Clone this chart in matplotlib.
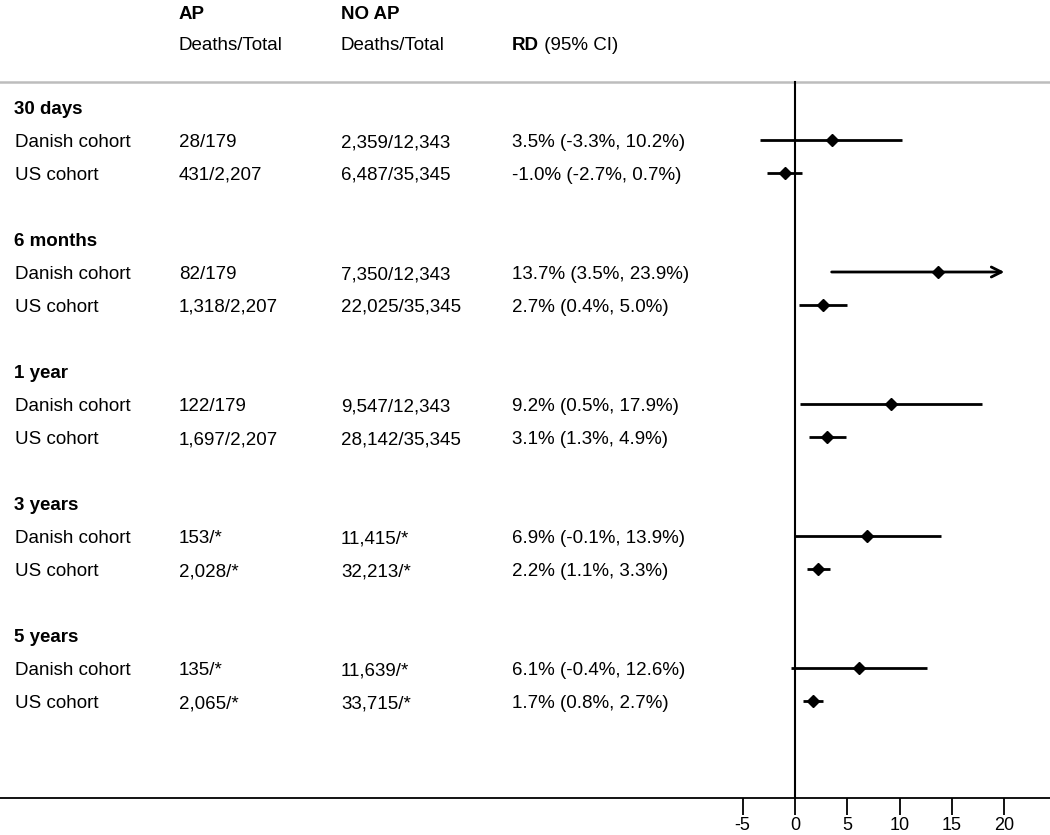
import matplotlib
matplotlib.use("Agg")
import matplotlib.pyplot as plt
import matplotlib.transforms as mtransforms

plt.rcParams['font.family'] = ['Liberation Sans', 'DejaVu Sans']

groups = ["30 days", "6 months", "1 year", "3 years", "5 years"]
cohorts = ["Danish cohort", "US cohort"]
ap_counts = [["28/179", "431/2,207"], ["82/179", "1,318/2,207"], ["122/179", "1,697/2,207"],
             ["153/*", "2,028/*"], ["135/*", "2,065/*"]]
noap_counts = [["2,359/12,343", "6,487/35,345"], ["7,350/12,343", "22,025/35,345"],
               ["9,547/12,343", "28,142/35,345"], ["11,415/*", "32,213/*"], ["11,639/*", "33,715/*"]]
rd = [[3.5, -1.0], [13.7, 2.7], [9.2, 3.1], [6.9, 2.2], [6.1, 1.7]]
lo = [[-3.3, -2.7], [3.5, 0.4], [0.5, 1.3], [-0.1, 1.1], [-0.4, 0.8]]
hi = [[10.2, 0.7], [23.9, 5.0], [17.9, 4.9], [13.9, 3.3], [12.6, 2.7]]
xticks = [-5, 0, 5, 10, 15, 20]
x_max = 20

W, H = 1050, 835
fig = plt.figure(figsize=(W / 100, H / 100), dpi=100)
bottom_px = 37
ax = fig.add_axes([0, bottom_px / H, 1, 1 - bottom_px / H])

# pixel mapping
x0_px, px_per_unit = 795.0, 10.47
ax.set_xlim((0 - x0_px) / px_per_unit, (W - x0_px) / px_per_unit)
y0_px, pitch = 107.0, 33.0
ax.set_ylim((H - bottom_px - y0_px) / pitch, (0 - y0_px) / pitch)

def row(px):
    return (px - y0_px) / pitch

fs = 13.5
base_off = 7.0 / pitch  # baseline sits below row centre
tr = mtransforms.blended_transform_factory(ax.transAxes, ax.transData)
col_x = [14 / W, 179 / W, 341 / W, 512 / W]

def put(x, y, s, bold=False):
    return ax.text(x, y + base_off, s, transform=tr, fontsize=fs,
                   fontweight='bold' if bold else 'normal', va='baseline')

# header
put(col_x[1], row(12), "AP", bold=True)
put(col_x[2], row(12), "NO AP", bold=True)
put(col_x[1], row(43), "Deaths/Total")
put(col_x[2], row(43), "Deaths/Total")
t = put(col_x[3], row(43), "RD", bold=True)
ax.annotate(" (95% CI)", xycoords=t, xy=(1, 0), xytext=(0, 0), textcoords='offset points',
            va='bottom', fontsize=fs)

top_line_y = row(82)
ax.plot([0, 1], [top_line_y, top_line_y], transform=tr, color='#bdbdbd', lw=1.8, clip_on=False)
ax.plot([0, 0], [top_line_y, ax.get_ylim()[0]], color='black', lw=1.5)

for g, name in enumerate(groups):
    base = 4 * g
    put(col_x[0], base, name, bold=True)
    for c, coh in enumerate(cohorts):
        y = base + 1 + c
        put(col_x[0] + 1 / W, y, coh)
        put(col_x[1], y, ap_counts[g][c])
        put(col_x[2], y, noap_counts[g][c])
        put(col_x[3], y, f"{rd[g][c]:.1f}% ({lo[g][c]:.1f}%, {hi[g][c]:.1f}%)")
        if hi[g][c] > x_max:
            ax.annotate('', xy=(x_max, y), xytext=(lo[g][c], y),
                        arrowprops=dict(arrowstyle='->', lw=2, color='black',
                                        mutation_scale=18, shrinkA=0, shrinkB=0))
        else:
            ax.plot([lo[g][c], hi[g][c]], [y, y], color='black', lw=2, solid_capstyle='butt')
        ax.plot(rd[g][c], y, marker='D', color='black', markersize=6.5)

ax.set_xticks(xticks)
ax.set_xticklabels([str(v) for v in xticks], fontsize=13)
ax.tick_params(axis='x', length=12, width=1.3, pad=2)
ax.set_yticks([])
for s in ['top', 'left', 'right']:
    ax.spines[s].set_visible(False)
ax.spines['bottom'].set_linewidth(1.3)

fig.savefig("out.png", dpi=100)
